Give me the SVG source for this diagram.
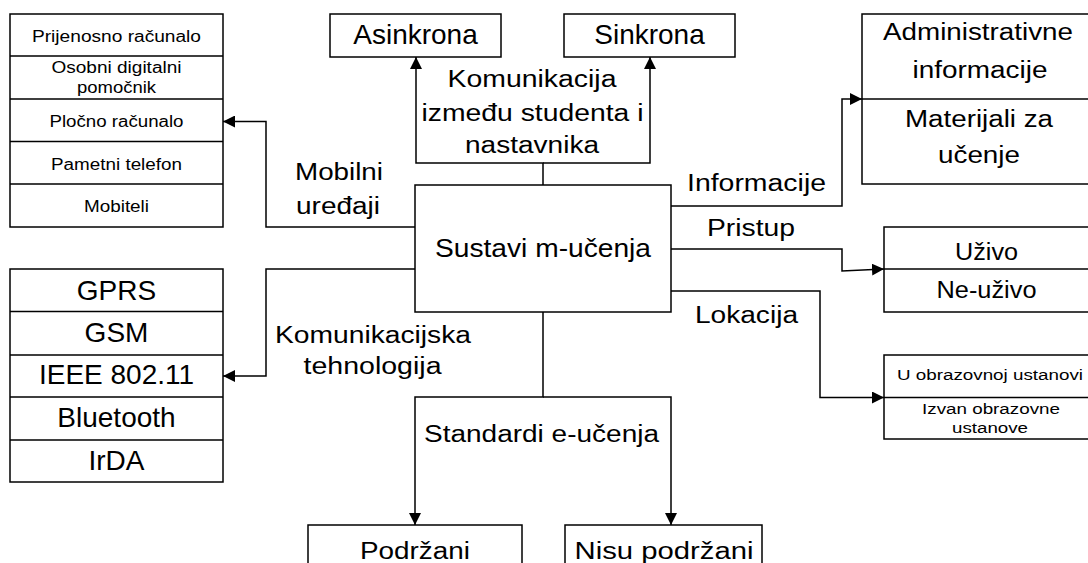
<svg xmlns="http://www.w3.org/2000/svg" width="1088" height="563" viewBox="0 0 1088 563">
  <style>
    text { font-family: "Liberation Sans", Arial, sans-serif; fill: #000; text-anchor: middle; }
    .box { fill: #fff; stroke: #000; stroke-width: 1.5; }
    .div { stroke: #000; stroke-width: 1.5; fill: none; }
    .wire { stroke: #000; stroke-width: 1.5; fill: none; }
    .xs { font-size: 14px; }
    .s { font-size: 16px; }
    .m { font-size: 23px; }
    .l { font-size: 28px; }
  </style>
  <defs>
    <marker id="arrow" viewBox="0 0 12 12" refX="12" refY="6" markerWidth="12" markerHeight="12" markerUnits="userSpaceOnUse" orient="auto">
      <path d="M0,0 L12,6 L0,12 Z" fill="#000"/>
    </marker>
  </defs>
  <rect width="1088" height="563" fill="#fff"/>

  <!-- connectors -->
  <g id="connectors" class="wire">
    <!-- top: communication between student and teacher -->
    <path d="M543,185 V163 H416 V57" marker-end="url(#arrow)"/>
    <path d="M543,163 H650 V57" marker-end="url(#arrow)"/>
    <!-- left: mobile devices -->
    <path d="M415,227 H266 V121.5 H223" marker-end="url(#arrow)"/>
    <!-- left: communication technology -->
    <path d="M415,269 H266 V376 H223" marker-end="url(#arrow)"/>
    <!-- right: information -->
    <path d="M671,206 H842 V99 H862" marker-end="url(#arrow)"/>
    <!-- right: access -->
    <path d="M671,249 H842 V271 L884,269" marker-end="url(#arrow)"/>
    <!-- right: location -->
    <path d="M671,291 H820 V397.5 H884" marker-end="url(#arrow)"/>
    <!-- bottom: e-learning standards -->
    <path d="M543,312 V397 H415 V525" marker-end="url(#arrow)"/>
    <path d="M543,397 H671 V525" marker-end="url(#arrow)"/>
  </g>

  <!-- edge labels -->
  <g id="labels">
    <text class="m" x="532" y="87" textLength="169" lengthAdjust="spacingAndGlyphs">Komunikacija</text>
    <text class="m" x="532.5" y="120.5" textLength="222" lengthAdjust="spacingAndGlyphs">između studenta i</text>
    <text class="m" x="532" y="153" textLength="134" lengthAdjust="spacingAndGlyphs">nastavnika</text>
    <text class="m" x="339" y="180" textLength="88" lengthAdjust="spacingAndGlyphs">Mobilni</text>
    <text class="m" x="338" y="214" textLength="84" lengthAdjust="spacingAndGlyphs">uređaji</text>
    <text class="m" x="373" y="343" textLength="196" lengthAdjust="spacingAndGlyphs">Komunikacijska</text>
    <text class="m" x="372.5" y="374" textLength="138" lengthAdjust="spacingAndGlyphs">tehnologija</text>
    <text class="m" x="756.5" y="190.5" textLength="139" lengthAdjust="spacingAndGlyphs">Informacije</text>
    <text class="m" x="751" y="236" textLength="88" lengthAdjust="spacingAndGlyphs">Pristup</text>
    <text class="m" x="746.5" y="322.5" textLength="103" lengthAdjust="spacingAndGlyphs">Lokacija</text>
    <text class="m" x="541.5" y="442" textLength="235" lengthAdjust="spacingAndGlyphs">Standardi e-učenja</text>
  </g>

  <!-- central node -->
  <g id="main">
    <rect class="box" x="415" y="185" width="256" height="127"/>
    <text x="543" y="257" style="font-size:26px" textLength="216" lengthAdjust="spacingAndGlyphs">Sustavi m-učenja</text>
  </g>

  <!-- mobile devices list -->
  <g id="devices">
    <rect class="box" x="10" y="14" width="213" height="213"/>
    <path class="div" d="M10,56 H223 M10,99 H223 M10,141.5 H223 M10,184 H223"/>
    <text class="s" x="116.5" y="42" textLength="169" lengthAdjust="spacingAndGlyphs">Prijenosno računalo</text>
    <text class="s" x="116.5" y="73" textLength="130" lengthAdjust="spacingAndGlyphs">Osobni digitalni</text>
    <text class="s" x="116.5" y="93" textLength="79" lengthAdjust="spacingAndGlyphs">pomočnik</text>
    <text class="s" x="116.5" y="127" textLength="134" lengthAdjust="spacingAndGlyphs">Pločno računalo</text>
    <text class="s" x="116.5" y="169.5" textLength="131" lengthAdjust="spacingAndGlyphs">Pametni telefon</text>
    <text class="s" x="116.5" y="211.5" textLength="65" lengthAdjust="spacingAndGlyphs">Mobiteli</text>
  </g>

  <!-- communication technologies list -->
  <g id="technologies">
    <rect class="box" x="10" y="269" width="213" height="213"/>
    <path class="div" d="M10,311.5 H223 M10,355 H223 M10,397 H223 M10,440 H223"/>
    <text class="l" x="116.5" y="300">GPRS</text>
    <text class="l" x="116.5" y="342">GSM</text>
    <text class="l" x="116.5" y="384">IEEE 802.11</text>
    <text class="l" x="116.5" y="427">Bluetooth</text>
    <text class="l" x="116.5" y="470">IrDA</text>
  </g>

  <!-- communication modes -->
  <g id="asinkrona">
    <rect class="box" x="330" y="14" width="171" height="43"/>
    <text class="l" x="415.5" y="44">Asinkrona</text>
  </g>
  <g id="sinkrona">
    <rect class="box" x="564" y="14" width="171" height="43"/>
    <text class="l" x="649.5" y="44">Sinkrona</text>
  </g>

  <!-- information kinds -->
  <g id="informacije">
    <rect class="box" x="862" y="14" width="230" height="170"/>
    <path class="div" d="M862,99 H1092"/>
    <text class="m" x="978" y="40" textLength="190" lengthAdjust="spacingAndGlyphs">Administrativne</text>
    <text class="m" x="980" y="78" textLength="135" lengthAdjust="spacingAndGlyphs">informacije</text>
    <text class="m" x="979" y="126.5" textLength="148" lengthAdjust="spacingAndGlyphs">Materijali za</text>
    <text class="m" x="979" y="162.5" textLength="82" lengthAdjust="spacingAndGlyphs">učenje</text>
  </g>

  <!-- access kinds -->
  <g id="pristup">
    <rect class="box" x="884" y="227" width="208" height="85"/>
    <path class="div" d="M884,269 H1092"/>
    <text class="m" x="986.5" y="260" textLength="63" lengthAdjust="spacingAndGlyphs">Uživo</text>
    <text class="m" x="986.5" y="298" textLength="100" lengthAdjust="spacingAndGlyphs">Ne-uživo</text>
  </g>

  <!-- location kinds -->
  <g id="lokacija">
    <rect class="box" x="884" y="355" width="208" height="84"/>
    <path class="div" d="M884,397.5 H1092"/>
    <text class="xs" x="990" y="380" textLength="186" lengthAdjust="spacingAndGlyphs">U obrazovnoj ustanovi</text>
    <text class="xs" x="991" y="414" textLength="138" lengthAdjust="spacingAndGlyphs">Izvan obrazovne</text>
    <text class="xs" x="990" y="433" textLength="76" lengthAdjust="spacingAndGlyphs">ustanove</text>
  </g>

  <!-- e-learning standards -->
  <g id="podrzani">
    <rect class="box" x="308" y="525" width="214" height="50"/>
    <text class="m" x="415" y="559" textLength="110" lengthAdjust="spacingAndGlyphs">Podržani</text>
  </g>
  <g id="nisu-podrzani">
    <rect class="box" x="565" y="525" width="197" height="50"/>
    <text class="m" x="664" y="559" textLength="179" lengthAdjust="spacingAndGlyphs">Nisu podržani</text>
  </g>
</svg>
